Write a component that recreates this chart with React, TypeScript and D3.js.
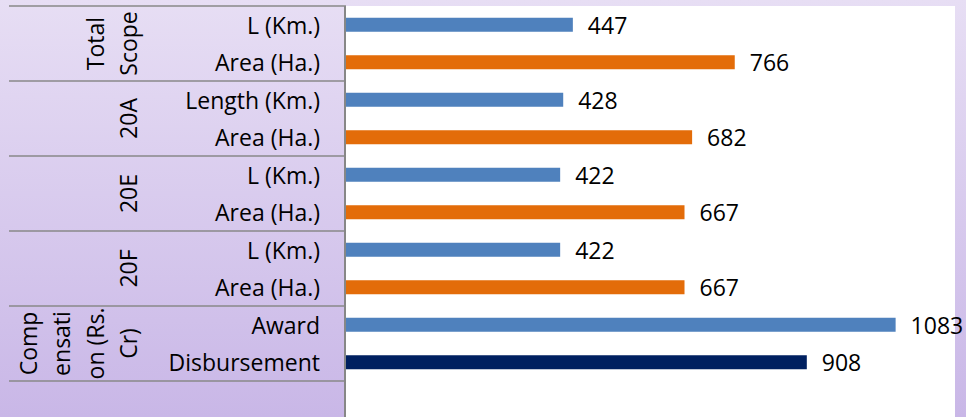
import React from "react";
import * as d3 from "d3";

const groups = ["Total Scope", "20A", "20E", "20F", "Compensation (Rs. Cr)"];
const groupLines = [["Total", "Scope"], ["20A"], ["20E"], ["20F"], ["Comp", "ensati", "on (Rs.", "Cr)"]];
const categories = [
  ["L (Km.)", "Area (Ha.)"],
  ["Length (Km.)", "Area (Ha.)"],
  ["L (Km.)", "Area (Ha.)"],
  ["L (Km.)", "Area (Ha.)"],
  ["Award", "Disbursement"],
];
const values = [
  [447, 766],
  [428, 682],
  [422, 667],
  [422, 667],
  [1083, 908],
];
const colors = [
  ["#4f81bd", "#e36c09"],
  ["#4f81bd", "#e36c09"],
  ["#4f81bd", "#e36c09"],
  ["#4f81bd", "#e36c09"],
  ["#4f81bd", "#002060"],
];

const W = 966;
const H = 417;
const plotLeft = 346;
const plotRight = 955;
const plotTop = 6;
const groupH = 75;
const font = "'Open Sans', sans-serif";

const App = () => {
  const x = d3.scaleLinear([0, 1200], [plotLeft, plotRight]);
  const gy = d3.scaleBand(groups, [plotTop, plotTop + groupH * groups.length]);
  const rows = d3.scaleBand([0, 1], [0, groupH]).paddingInner(0).paddingOuter(0);
  const barH = 14;

  return (
    <svg width={W} height={H} style={{ position: "absolute", left: 0, top: 0 }}>
      <defs>
        <linearGradient id="bg" x1="0" y1="0" x2="0" y2="1">
          <stop offset="0%" stopColor="#e7def4" />
          <stop offset="100%" stopColor="#c9b7e7" />
        </linearGradient>
      </defs>
      <rect width={W} height={H} fill="url(#bg)" />
      <rect x={plotLeft} y={plotTop} width={plotRight - plotLeft} height={H - plotTop} fill="#fff" />

      {/* group separators */}
      {d3.range(groups.length + 1).map((i) => (
        <line
          key={i}
          x1={9}
          x2={plotLeft}
          y1={plotTop + i * groupH}
          y2={plotTop + i * groupH}
          stroke="#888"
          strokeWidth={1.5}
        />
      ))}
      <line x1={345} x2={345} y1={plotTop} y2={H} stroke="#878787" strokeWidth={2} />

      {groups.map((g, gi) => {
        const y0 = gy(g) as number;
        const cy = y0 + groupH / 2;
        const lines = groupLines[gi];
        return (
          <g key={g}>
            {lines.map((t, li) => {
              const cx = 128 - (lines.length - 1 - li) * 33.3;
              return (
                <text
                  key={li}
                  transform={`translate(${cx},${cy}) rotate(-90)`}
                  textAnchor="middle"
                  dominantBaseline="central"
                  fontFamily={font}
                  fontSize={23}
                  fill="#000"
                >
                  {t}
                </text>
              );
            })}
            {categories[gi].map((c, ci) => {
              const by = y0 + (rows(ci) as number) + rows.bandwidth() / 2;
              const v = values[gi][ci];
              return (
                <g key={ci}>
                  <text
                    x={320}
                    y={by}
                    textAnchor="end"
                    dominantBaseline="central"
                    fontFamily={font}
                    fontSize={23}
                    fill="#000"
                  >
                    {c}
                  </text>
                  <rect
                    x={x(0)}
                    y={by - barH / 2}
                    width={x(v) - x(0)}
                    height={barH}
                    fill={colors[gi][ci]}
                  />
                  <text
                    x={x(v) + 15}
                    y={by}
                    dominantBaseline="central"
                    fontFamily={font}
                    fontSize={23}
                    fill="#000"
                  >
                    {v}
                  </text>
                </g>
              );
            })}
          </g>
        );
      })}
    </svg>
  );
};

export default App;
